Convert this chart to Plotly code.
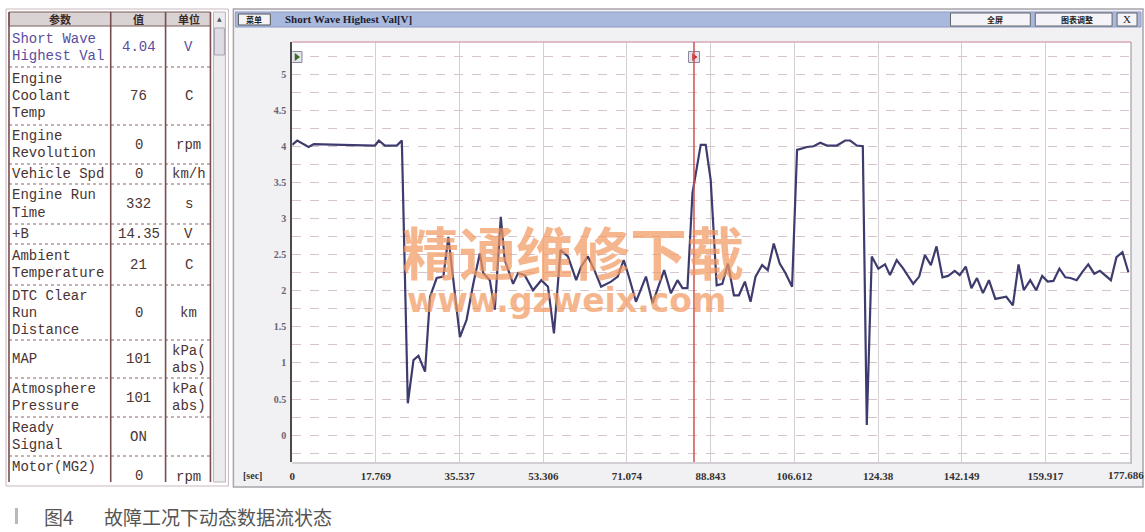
import plotly.graph_objects as go

W, H = 1145, 532

# ---------------- data ----------------
t_sec = [0, 1.06, 3.47, 4.59, 10.58, 17.56, 18.40, 19.67, 22.21, 23.27,
         24.54, 25.74, 26.80, 28.20, 29.26, 30.67, 32.09, 33.15, 35.60, 37.02,
         38.44, 39.83, 40.55, 41.95, 43.01, 44.28, 45.12, 46.90, 47.96, 49.35,
         51.13, 52.89, 54.30, 55.57, 56.97, 58.53, 60.29, 61.35, 62.77, 64.16,
         65.58, 67.69, 69.11, 70.38, 71.56, 72.98, 75.10, 76.52, 78.97, 80.39,
         81.80, 82.86, 83.92, 84.98, 86.73, 87.79, 88.85, 90.12, 91.32, 92.51,
         93.78, 94.84, 96.11, 97.31, 98.37, 99.78, 100.97, 102.24, 103.51, 104.71,
         106.13, 107.19, 109.30, 110.70, 112.12, 113.53, 115.65, 117.40, 118.46, 119.88,
         121.15, 121.99, 123.05, 124.45, 125.87, 126.92, 128.34, 129.74, 131.85, 133.12,
         134.33, 135.60, 136.80, 138.07, 139.26, 140.67, 141.73, 143.00, 144.21, 145.39,
         146.66, 147.93, 149.29, 151.61, 153.01, 154.21, 155.33, 156.69, 157.96, 159.23,
         160.41, 161.62, 162.89, 164.16, 165.21, 166.55, 167.82, 169.02, 170.29, 171.50,
         173.82, 175.01, 176.28, 177.54]
v_volts = [4.03, 4.09, 4.00, 4.04, 4.03, 4.02, 4.09, 4.02, 4.02, 4.09,
           0.44, 1.04, 1.10, 0.88, 1.92, 2.18, 2.20, 2.75, 1.36, 1.60,
           2.10, 2.52, 2.25, 2.15, 1.74, 3.03, 2.43, 2.10, 2.25, 2.22,
           2.01, 2.15, 2.06, 1.41, 2.57, 2.48, 2.15, 2.34, 2.48, 2.29,
           2.06, 2.13, 2.20, 2.43, 2.18, 1.85, 2.20, 1.83, 2.29, 1.97,
           2.15, 2.04, 2.04, 3.36, 4.03, 4.03, 3.54, 2.08, 2.10, 2.38,
           1.94, 1.94, 2.13, 1.85, 2.20, 2.36, 2.29, 2.66, 2.38, 2.25,
           2.06, 3.96, 4.00, 4.01, 4.06, 4.02, 4.02, 4.09, 4.09, 4.02,
           4.01, 0.14, 2.48, 2.31, 2.37, 2.22, 2.43, 2.31, 2.10, 2.20,
           2.50, 2.36, 2.62, 2.19, 2.21, 2.28, 2.22, 2.34, 2.04, 2.18,
           1.97, 2.15, 1.89, 1.92, 1.80, 2.37, 2.01, 2.15, 2.01, 2.21,
           2.13, 2.14, 2.31, 2.19, 2.18, 2.15, 2.27, 2.37, 2.24, 2.28,
           2.15, 2.47, 2.54, 2.26]
cursor_t = 85.3
x_tick_vals = [0, 17.769, 35.537, 53.306, 71.074, 88.843, 106.612, 124.38, 142.149, 159.917, 177.686]
x_tick_text = ["0", "17.769", "35.537", "53.306", "71.074", "88.843", "106.612", "124.38", "142.149", "159.917", "177.686"]
y_tick_vals = [-0.25, 0, 0.25, 0.5, 0.75, 1, 1.25, 1.5, 1.75, 2, 2.25, 2.5, 2.75, 3, 3.25,
               3.5, 3.75, 4, 4.25, 4.5, 4.75, 5, 5.25]
y_tick_text = ["", "0", "", "0.5", "", "1", "", "1.5", "", "2", "", "2.5", "", "3", "",
               "3.5", "", "4", "", "4.5", "", "5", ""]

# table content
param_names = [["Short Wave", "Highest Val"], ["Engine", "Coolant", "Temp"], ["Engine", "Revolution"],
               ["Vehicle Spd"], ["Engine Run", "Time"], ["+B"], ["Ambient", "Temperature"],
               ["DTC Clear", "Run", "Distance"], ["MAP"], ["Atmosphere", "Pressure"],
               ["Ready", "Signal"], ["Motor(MG2)"]]
param_values = ["4.04", "76", "0", "0", "332", "14.35", "21", "0", "101", "101", "ON", "0"]
param_units = [["V"], ["C"], ["rpm"], ["km/h"], ["s"], ["V"], ["C"], ["km"], ["kPa(", "abs)"],
               ["kPa(", "abs)"], [""], ["rpm"]]
row_edges = [27, 67, 125, 164, 184, 224, 244, 285, 340, 378, 417, 456, 496]

# ---------------- helpers ----------------
def X(px):
    return px / W

def Y(py):
    return 1 - py / H

shapes = []
annots = []

def rect(x0, y0, x1, y1, fill=None, line=None, lw=1, dash=None, layer="below"):
    d = dict(type="rect", xref="paper", yref="paper", x0=X(x0), x1=X(x1), y0=Y(y1), y1=Y(y0),
             layer=layer, line=dict(width=0 if line is None else lw, color=line or "rgba(0,0,0,0)"))
    if dash:
        d["line"]["dash"] = dash
    if fill:
        d["fillcolor"] = fill
    shapes.append(d)

def hline(x0, x1, y, color, lw=1, dash=None, layer="above"):
    d = dict(type="line", xref="paper", yref="paper", x0=X(x0), x1=X(x1), y0=Y(y), y1=Y(y),
             layer=layer, line=dict(color=color, width=lw))
    if dash:
        d["line"]["dash"] = dash
    shapes.append(d)

def vline(x, y0, y1, color, lw=1, dash=None, layer="above"):
    d = dict(type="line", xref="paper", yref="paper", x0=X(x), x1=X(x), y0=Y(y0), y1=Y(y1),
             layer=layer, line=dict(color=color, width=lw))
    if dash:
        d["line"]["dash"] = dash
    shapes.append(d)

def text(x, y, s, size=14, color="#4a3434", family="Liberation Mono", xanchor="left", bold=False, opacity=1):
    if bold:
        s = "<b>" + s + "</b>"
    annots.append(dict(xref="paper", yref="paper", x=X(x), y=Y(y), text=s, showarrow=False,
                       xanchor=xanchor, yanchor="middle", opacity=opacity, borderpad=0,
                       font=dict(size=size, color=color, family=family)))

# ---------------- left table ----------------
rect(3, 9, 226, 486, fill="#ffffff", line="#c8b8bc")
rect(6, 12, 208, 26, fill="#d9d3d3", line="#7a5a5a")
text(57, 19, "参数", size=11, color="#3a2a2a", family="Noto Sans CJK SC", xanchor="center", bold=True)
text(136, 19, "值", size=11, color="#3a2a2a", family="Noto Sans CJK SC", xanchor="center", bold=True)
text(186, 19, "单位", size=11, color="#3a2a2a", family="Noto Sans CJK SC", xanchor="center", bold=True)
for i in range(len(param_names)):
    y0, y1 = row_edges[i], row_edges[i + 1]
    if i < len(param_names) - 1:
        hline(6, 208, y1, "#8a6666", lw=1.2, dash="dot")
    col = "#5a4e9e" if i == 0 else "#4a3434"
    lines = param_names[i]
    lh = 17
    if i == len(param_names) - 1:
        text(8, 467, lines[0], color=col)
        text(136, 476, param_values[i], color=col, xanchor="center")
        text(186, 477, param_units[i][0], color=col, xanchor="center")
        continue
    cy = (y0 + y1) / 2
    start = cy - lh * (len(lines) - 1) / 2
    for k, ln in enumerate(lines):
        text(8, start + k * lh, ln, color=col)
    text(136, cy, param_values[i], color=col, xanchor="center")
    ul = param_units[i]
    ustart = cy - lh * (len(ul) - 1) / 2
    for k, ln in enumerate(ul):
        text(186, ustart + k * lh, ln, color=col, xanchor="center")
for xv in [6, 108, 163, 208]:
    vline(xv, 12, 482, "#7a4e50", lw=1.6)
# scrollbar
rect(211, 12, 223, 482, fill="#ecebee", line="#b8b4bc")
rect(212, 28, 222, 55, fill="#dedce4", line="#a8a4b0")
text(217, 19, "▲", size=6, color="#555", family="DejaVu Sans", xanchor="center")

# ---------------- chart window ----------------
rect(231, 9, 1143, 487, fill="#f1f0f3", line="#a8a4ac", lw=1.5)
rect(233, 12, 1141, 27, fill="#a9b9de", line="#8d9bc4")
rect(950, 13, 1030, 26, fill="#f4f4f8", line="#666")
rect(1035, 13, 1112, 26, fill="#f4f4f8", line="#666")
rect(1117, 13, 1137, 26, fill="#f4f4f8", line="#666")
rect(236, 14, 268, 25, fill="#f4f4f8", line="#555")
text(252, 19.5, "菜单", size=8, color="#222", family="Noto Sans CJK SC", xanchor="center", bold=True)
text(282, 19.5, "Short Wave Highest Val[V]", size=11, color="#1e1e2e", family="Liberation Serif", bold=True)
text(995, 19.5, "全屏", size=8, color="#222", family="Noto Sans CJK SC", xanchor="center", bold=True)
text(1077, 19.5, "图表调整", size=8, color="#222", family="Noto Sans CJK SC", xanchor="center", bold=True)
text(1127, 19.5, "X", size=11, color="#222", family="Liberation Serif", xanchor="center")
rect(290, 42, 1131, 462, fill="#ffffff", line=None)
text(250, 475, "[sec]", size=10, color="#333", family="Liberation Serif", xanchor="center", bold=True)
# last x tick label sits at the right edge of the window (kept inside the page)
annots.append(dict(xref="paper", yref="paper", x=1.0, y=Y(475), text="<b>" + x_tick_text[-1] + "</b>",
                   showarrow=False, xanchor="right", yanchor="middle", borderpad=0,
                   font=dict(family="Liberation Serif", size=11, color="#333")))

# plot frame
hline(290, 1131, 42, "#d6a8b6", lw=1.5)
vline(1131, 42, 464, "#b4b0b8", lw=1.5)
hline(290, 1131, 463, "#c9c2ca", lw=1.5)

# watermark
text(571, 250, "精通维修下载", size=57, color="#f39a62", family="Noto Sans CJK SC", xanchor="center",
     bold=True, opacity=0.72)
text(565, 300, "www.gzweix.com", size=33, color="#f39a62", family="DejaVu Sans", xanchor="center",
     bold=True, opacity=0.72)

# caption
rect(12, 508, 15, 524, fill="#b8b8b8")
text(40, 516, "图4", size=19, color="#555555", family="Noto Sans CJK SC")
text(100, 516, "故障工况下动态数据流状态", size=19, color="#555555", family="Noto Sans CJK SC")

# ---------------- traces ----------------
fig = go.Figure()
fig.add_trace(go.Scatter(x=t_sec, y=v_volts, mode="lines",
                         line=dict(color="#3e3b6e", width=2.2), hoverinfo="skip", showlegend=False))
# cursor markers
fig.add_trace(go.Scatter(x=[0.9, cursor_t], y=[5.25, 5.25], mode="markers",
                         marker=dict(symbol="square", size=11, color="#e4e2ea",
                                     line=dict(color="#8a8898", width=1)),
                         hoverinfo="skip", showlegend=False))
fig.add_trace(go.Scatter(x=[0.9, cursor_t], y=[5.25, 5.25], mode="markers",
                         marker=dict(symbol="triangle-right", size=7, color=["#3a6a2a", "#d02828"]),
                         hoverinfo="skip", showlegend=False))

shapes.append(dict(type="line", xref="x", yref="paper", x0=cursor_t, x1=cursor_t,
                   y0=Y(462), y1=Y(42), line=dict(color="#d05050", width=1.5), layer="above"))

fig.update_layout(
    width=W, height=H, autosize=False, margin=dict(l=0, r=0, t=0, b=0),
    paper_bgcolor="#ffffff", plot_bgcolor="rgba(0,0,0,0)",
    shapes=shapes, annotations=annots,
    xaxis=dict(domain=[X(290), X(1131)], range=[0, 178.1], tickmode="array",
               tickvals=x_tick_vals[:-1], ticktext=["<b>" + s + "</b>" for s in x_tick_text[:-1]],
               showgrid=True, gridcolor="#d2d0d4", gridwidth=1, zeroline=False, showline=False,
               ticks="", ticklabelstandoff=6,
               tickfont=dict(family="Liberation Serif", size=11, color="#333")),
    yaxis=dict(domain=[Y(462), Y(42)], range=[-0.375, 5.458], tickmode="array",
               tickvals=y_tick_vals, ticktext=["<b>" + s + "</b>" if s else "" for s in y_tick_text],
               showgrid=True, gridcolor="#d8c4ce", gridwidth=1, griddash="dash", zeroline=False,
               showline=True, linecolor="#4a4a4a", linewidth=2, ticks="",
               tickfont=dict(family="Liberation Serif", size=10, color="#6a6470"),
               ticklabelstandoff=2),
)

fig.write_html(
    "out.html",
    config={"displayModeBar": False, "responsive": False},
    post_script="document.body.style.margin='0';document.body.style.overflow='hidden';",
)
